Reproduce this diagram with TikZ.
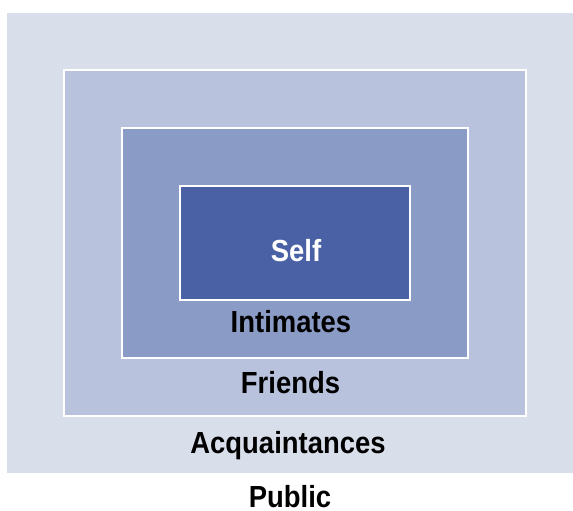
\documentclass[tikz,border=0pt]{standalone}
\usepackage{fontspec}
\setmainfont{Liberation Sans}[FakeStretch=0.9]
\definecolor{publicbg}{HTML}{D9DFEA}
\definecolor{friendbg}{HTML}{B8C2DD}
\definecolor{intimbg}{HTML}{8A9BC6}
\definecolor{selfbg}{HTML}{4A62A5}
\tikzset{
	zone/.style={draw=white,line width=2pt},
	zonelabel/.style={anchor=base,inner sep=0pt,font=\fontsize{30.5}{32}\selectfont\bfseries}
}
\begin{document}
\begin{tikzpicture}[x=1pt,y=-1pt]
		\useasboundingbox (0,0) rectangle (573,511);
		
		\fill[publicbg] (7,13) rectangle (573,473);
		\fill[friendbg,zone] (64,70) rectangle (526,416);
		\fill[intimbg,zone] (122,128) rectangle (468,358);
		\fill[selfbg,zone] (179.5,185.5) rectangle (410,300);
		
		\node[zonelabel,white] (self) at (296,261) {Self};
		\node[zonelabel] (intimates) at (291,332) {Intimates};
		\node[zonelabel] (friends) at (290.5,393) {Friends};
		\node[zonelabel] (acquaintances) at (288,453) {Acquaintances};
		\node[zonelabel] (public) at (290,507.5) {Public};
	\end{tikzpicture}
\end{document}
